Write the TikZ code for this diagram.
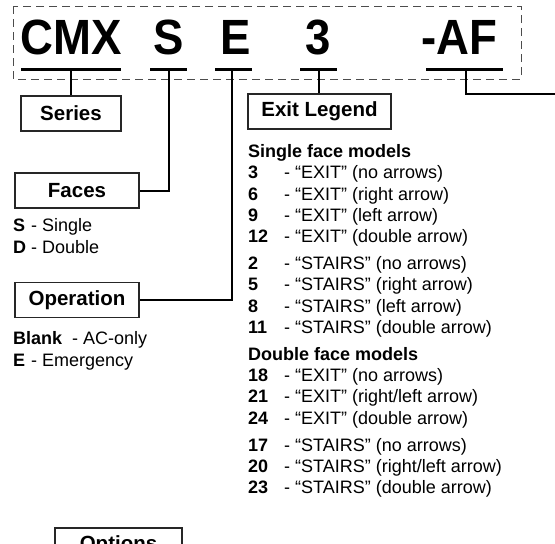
\documentclass[tikz,border=0pt]{standalone}
\usepackage{fontspec}
\setmainfont{Liberation Sans}
\newfontfamily\codefont[FakeStretch=0.92]{Liberation Sans}
\usetikzlibrary{positioning}

\newcommand{\keynum}[2][36pt]{\makebox[#1][l]{\bfseries #2}}

\begin{document}
\begin{tikzpicture}[
    x=1pt, y=-1pt,
    code/.style={
        inner sep=0pt, anchor=base,
        font=\codefont\bfseries\fontsize{49.5}{50}\selectfont
    },
    title/.style={
        rectangle, draw=black!85, line width=1.1pt, fill=white,
        minimum height=35pt, inner sep=0pt,
        font=\bfseries\fontsize{20.5}{22}\selectfont
    },
    list/.style={
        align=left, anchor=north west, inner sep=0pt,
        font=\fontsize{18}{21.3}\selectfont
    },
    uline/.style={line width=3pt, draw=black},
    leader/.style={line width=2pt, draw=black},
    frame/.style={draw=black!70, line width=1pt, dash pattern=on 8pt off 5pt}
]
    \useasboundingbox (0,0) rectangle (555,544);

    % --- MODEL CODE ---
    \draw [frame] (13,6) rectangle (521,79);
    \node [code] (c_cmx) at (71.5,54) {CMX};
    \node [code] (c_s) at (169,54) {S};
    \node [code] (c_e) at (235.5,54) {E};
    \node [code] (c_num) at (318.5,54) {3};
    \node [code] (c_af) at (459,54) {-AF};

    \coordinate (stub_cmx) at (71,69);
    \coordinate (stub_s) at (169,69);
    \coordinate (stub_e) at (232,69);
    \coordinate (stub_num) at (319,69);
    \coordinate (stub_af) at (466,69);
    \coordinate (to_options) at (560,94);

    % --- HEADINGS ---
    \node [title, minimum width=100pt] (series) at (71,113.5) {Series};
    \node [title, minimum width=124pt] (faces) at (77,190.5) {Faces};
    \node [title, minimum width=124pt] (operation) at (77,300) {Operation};
    \node [title, minimum width=143pt] (legend) at (319.5,111.5) {Exit Legend};
    \node [title, minimum width=127pt] (options) at (118.5,545.5) {Options};

    % --- KEYS ---
    \node [list] (faces_key) at (13,218.5) {%
        \keynum[18pt]{S}- Single\\
        \keynum[18pt]{D}- Double};
    \node [list] (op_key) at (13,331.5) {%
        \textbf{Blank}\ \ - AC-only\\
        \keynum[18pt]{E}- Emergency};
    \node [list] (legend_key) at (248,144.4) {%
        \textbf{Single face models}\\
        \keynum{3}- “EXIT” (no arrows)\\
        \keynum{6}- “EXIT” (right arrow)\\
        \keynum{9}- “EXIT” (left arrow)\\
        \keynum{12}- “EXIT” (double arrow)\\[5.5pt]
        \keynum{2}- “STAIRS” (no arrows)\\
        \keynum{5}- “STAIRS” (right arrow)\\
        \keynum{8}- “STAIRS” (left arrow)\\
        \keynum{11}- “STAIRS” (double arrow)\\[5.5pt]
        \textbf{Double face models}\\
        \keynum{18}- “EXIT” (no arrows)\\
        \keynum{21}- “EXIT” (right/left arrow)\\
        \keynum{24}- “EXIT” (double arrow)\\[5.5pt]
        \keynum{17}- “STAIRS” (no arrows)\\
        \keynum{20}- “STAIRS” (right/left arrow)\\
        \keynum{23}- “STAIRS” (double arrow)};

    % --- LEADERS ---
    \draw [leader] (stub_cmx) -- (series);
    \draw [leader] (stub_s) |- (faces);
    \draw [leader] (stub_e) |- (operation);
    \draw [leader] (stub_num) -- (stub_num |- legend.north);
    \draw [leader] (stub_af) |- (to_options);

    \draw [uline] (21,69) -- (121,69);
    \draw [uline] (150,69) -- (187,69);
    \draw [uline] (215,69) -- (252,69);
    \draw [uline] (300,69) -- (337,69);
    \draw [uline] (426,69) -- (503,69);

\end{tikzpicture}
\end{document}
